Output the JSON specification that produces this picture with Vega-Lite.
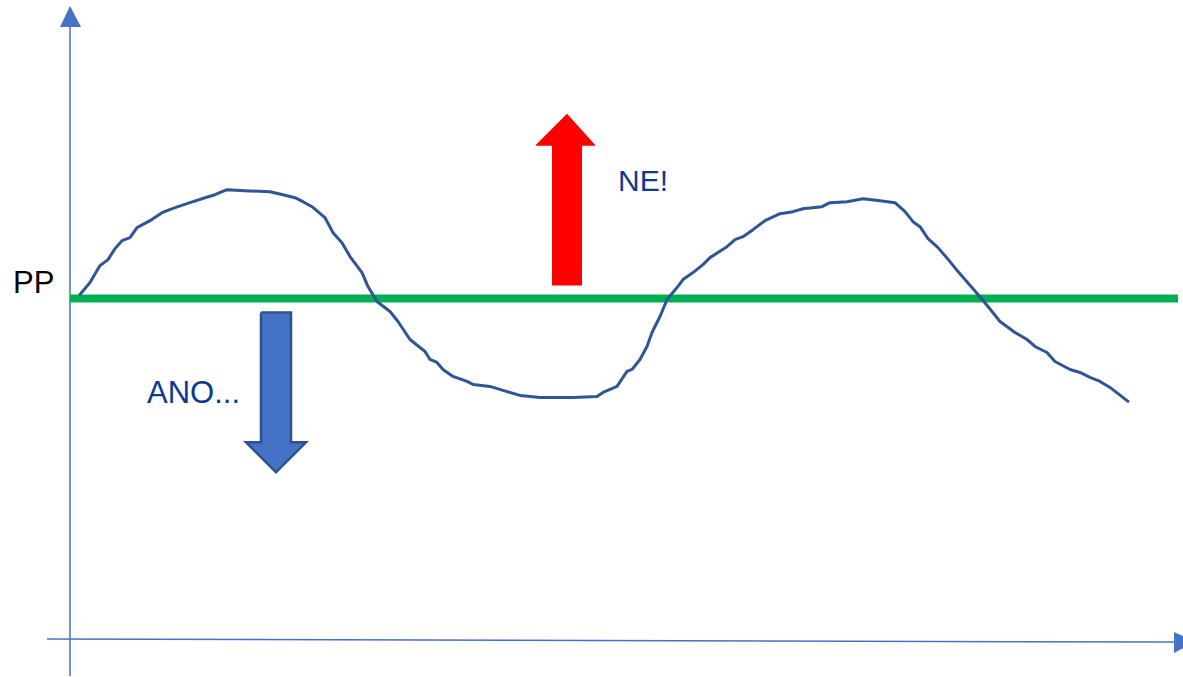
{
  "$schema": "https://vega.github.io/schema/vega-lite/v6.json",
  "width": 1183,
  "height": 677,
  "padding": 0,
  "autosize": {"type": "fit", "contains": "padding"},
  "background": "white",
  "config": {"view": {"stroke": null}},
  "datasets": {
    "axes": [
      {"x": 70, "y": 27, "x2": 70, "y2": 677, "w": "y"},
      {"x": 47, "y": 640, "x2": 1175, "y2": 643, "w": "x"}
    ],
    "green": [{"x": 70, "y": 299, "x2": 1178, "y2": 299}],
    "yhead": [{"x": 60, "y": 27}, {"x": 70, "y": 6}, {"x": 81, "y": 27}],
    "xhead": [{"y": 633, "x": 1174}, {"y": 643, "x": 1195}, {"y": 654, "x": 1174}],
    "curve": [
      {"x": 80, "y": 295}, {"x": 90, "y": 283}, {"x": 100, "y": 266}, {"x": 108, "y": 260}, {"x": 115, "y": 249},
      {"x": 122, "y": 241}, {"x": 130, "y": 238}, {"x": 137, "y": 228}, {"x": 150, "y": 221}, {"x": 162, "y": 213},
      {"x": 175, "y": 208}, {"x": 190, "y": 203}, {"x": 205, "y": 198}, {"x": 215, "y": 195}, {"x": 227, "y": 190},
      {"x": 245, "y": 191}, {"x": 270, "y": 192}, {"x": 283, "y": 195}, {"x": 295, "y": 198}, {"x": 303, "y": 202},
      {"x": 312, "y": 207}, {"x": 325, "y": 218}, {"x": 333, "y": 233}, {"x": 342, "y": 243}, {"x": 350, "y": 257},
      {"x": 362, "y": 273}, {"x": 368, "y": 287}, {"x": 377, "y": 302}, {"x": 390, "y": 312}, {"x": 398, "y": 322},
      {"x": 410, "y": 340}, {"x": 425, "y": 352}, {"x": 430, "y": 360}, {"x": 437, "y": 363}, {"x": 443, "y": 370},
      {"x": 453, "y": 377}, {"x": 467, "y": 382}, {"x": 473, "y": 385}, {"x": 490, "y": 387}, {"x": 503, "y": 391},
      {"x": 520, "y": 396}, {"x": 540, "y": 398}, {"x": 573, "y": 398}, {"x": 597, "y": 397}, {"x": 603, "y": 393},
      {"x": 617, "y": 387}, {"x": 627, "y": 372}, {"x": 632, "y": 370}, {"x": 640, "y": 360}, {"x": 647, "y": 347},
      {"x": 652, "y": 333}, {"x": 660, "y": 317}, {"x": 667, "y": 300}, {"x": 677, "y": 288}, {"x": 683, "y": 280},
      {"x": 693, "y": 273}, {"x": 703, "y": 265}, {"x": 710, "y": 258}, {"x": 727, "y": 247}, {"x": 735, "y": 240},
      {"x": 743, "y": 237}, {"x": 753, "y": 230}, {"x": 765, "y": 221}, {"x": 780, "y": 214}, {"x": 793, "y": 212},
      {"x": 803, "y": 209}, {"x": 822, "y": 207}, {"x": 830, "y": 203}, {"x": 847, "y": 202}, {"x": 863, "y": 199},
      {"x": 880, "y": 201}, {"x": 895, "y": 203}, {"x": 905, "y": 212}, {"x": 913, "y": 222}, {"x": 920, "y": 227},
      {"x": 928, "y": 239}, {"x": 938, "y": 248}, {"x": 950, "y": 262}, {"x": 958, "y": 272}, {"x": 978, "y": 295},
      {"x": 988, "y": 307}, {"x": 1000, "y": 322}, {"x": 1015, "y": 333}, {"x": 1027, "y": 340}, {"x": 1035, "y": 347},
      {"x": 1047, "y": 353}, {"x": 1055, "y": 362}, {"x": 1070, "y": 370}, {"x": 1080, "y": 373}, {"x": 1090, "y": 378},
      {"x": 1100, "y": 382}, {"x": 1110, "y": 388}, {"x": 1128, "y": 402}
    ],
    "redshaft": [{"x": 552, "x2": 582, "y": 145, "y2": 286}],
    "redhead": [{"x": 536, "y": 145}, {"x": 567, "y": 114}, {"x": 595, "y": 145}],
    "blueshaft": [{"x": 261, "x2": 291, "y": 313, "y2": 444}],
    "bluehead": [{"x": 246, "y": 443}, {"x": 276, "y": 473}, {"x": 306, "y": 443}],
    "blueoutline": [
      {"o": 1, "x": 261, "y": 313}, {"o": 2, "x": 291, "y": 313}, {"o": 3, "x": 291, "y": 443},
      {"o": 4, "x": 306, "y": 443}, {"o": 5, "x": 276, "y": 473}, {"o": 6, "x": 246, "y": 443},
      {"o": 7, "x": 261, "y": 443}, {"o": 8, "x": 261, "y": 313}
    ],
    "labels": [
      {"x": 13, "y": 293, "t": "PP", "c": "black", "s": 31},
      {"x": 618, "y": 191, "t": "NE!", "c": "blue", "s": 30},
      {"x": 147, "y": 404, "t": "ANO...", "c": "blue", "s": 31}
    ]
  },
  "layer": [
    {
      "data": {"name": "axes"},
      "mark": {"type": "rule", "color": "#4472C4", "strokeWidth": 1.5},
      "encoding": {
        "x": {"field": "x", "type": "quantitative", "scale": {"domain": [0, 1183], "nice": false, "zero": false}, "axis": null},
        "y": {"field": "y", "type": "quantitative", "scale": {"domain": [0, 677], "nice": false, "zero": false, "reverse": true}, "axis": null},
        "x2": {"field": "x2"},
        "y2": {"field": "y2"}
      }
    },
    {
      "data": {"name": "yhead"},
      "mark": {"type": "area", "color": "#4472C4", "clip": true},
      "encoding": {
        "x": {"field": "x", "type": "quantitative"},
        "y": {"field": "y", "type": "quantitative"},
        "y2": {"datum": 27}
      }
    },
    {
      "data": {"name": "xhead"},
      "mark": {"type": "area", "color": "#4472C4", "orient": "horizontal", "clip": true},
      "encoding": {
        "y": {"field": "y", "type": "quantitative"},
        "x": {"field": "x", "type": "quantitative"},
        "x2": {"datum": 1174}
      }
    },
    {
      "data": {"name": "green"},
      "mark": {"type": "rule", "color": "#00B050", "strokeWidth": 8},
      "encoding": {
        "x": {"field": "x", "type": "quantitative"},
        "y": {"field": "y", "type": "quantitative"},
        "x2": {"field": "x2"},
        "y2": {"field": "y2"}
      }
    },
    {
      "data": {"name": "curve"},
      "mark": {"type": "line", "color": "#2F5597", "strokeWidth": 3, "strokeJoin": "round", "strokeCap": "round"},
      "encoding": {
        "x": {"field": "x", "type": "quantitative"},
        "y": {"field": "y", "type": "quantitative"}
      }
    },
    {
      "data": {"name": "redshaft"},
      "mark": {"type": "rect", "color": "#FF0000"},
      "encoding": {
        "x": {"field": "x", "type": "quantitative"},
        "x2": {"field": "x2"},
        "y": {"field": "y", "type": "quantitative"},
        "y2": {"field": "y2"}
      }
    },
    {
      "data": {"name": "redhead"},
      "mark": {"type": "area", "color": "#FF0000"},
      "encoding": {
        "x": {"field": "x", "type": "quantitative"},
        "y": {"field": "y", "type": "quantitative"},
        "y2": {"datum": 146}
      }
    },
    {
      "data": {"name": "blueshaft"},
      "mark": {"type": "rect", "color": "#4472C4"},
      "encoding": {
        "x": {"field": "x", "type": "quantitative"},
        "x2": {"field": "x2"},
        "y": {"field": "y", "type": "quantitative"},
        "y2": {"field": "y2"}
      }
    },
    {
      "data": {"name": "bluehead"},
      "mark": {"type": "area", "color": "#4472C4"},
      "encoding": {
        "x": {"field": "x", "type": "quantitative"},
        "y": {"field": "y", "type": "quantitative"},
        "y2": {"datum": 443}
      }
    },
    {
      "data": {"name": "blueoutline"},
      "mark": {"type": "line", "color": "#2F528F", "strokeWidth": 2.5, "strokeJoin": "miter"},
      "encoding": {
        "x": {"field": "x", "type": "quantitative"},
        "y": {"field": "y", "type": "quantitative"},
        "order": {"field": "o", "type": "quantitative"}
      }
    },
    {
      "data": {"name": "labels"},
      "mark": {"type": "text", "align": "left", "baseline": "alphabetic", "font": "Liberation Sans"},
      "encoding": {
        "x": {"field": "x", "type": "quantitative"},
        "y": {"field": "y", "type": "quantitative"},
        "text": {"field": "t"},
        "size": {"field": "s", "type": "quantitative", "scale": null},
        "color": {"field": "c", "type": "nominal", "scale": {"domain": ["black", "blue"], "range": ["#000000", "#0B3A8E"]}, "legend": null}
      }
    }
  ]
}
